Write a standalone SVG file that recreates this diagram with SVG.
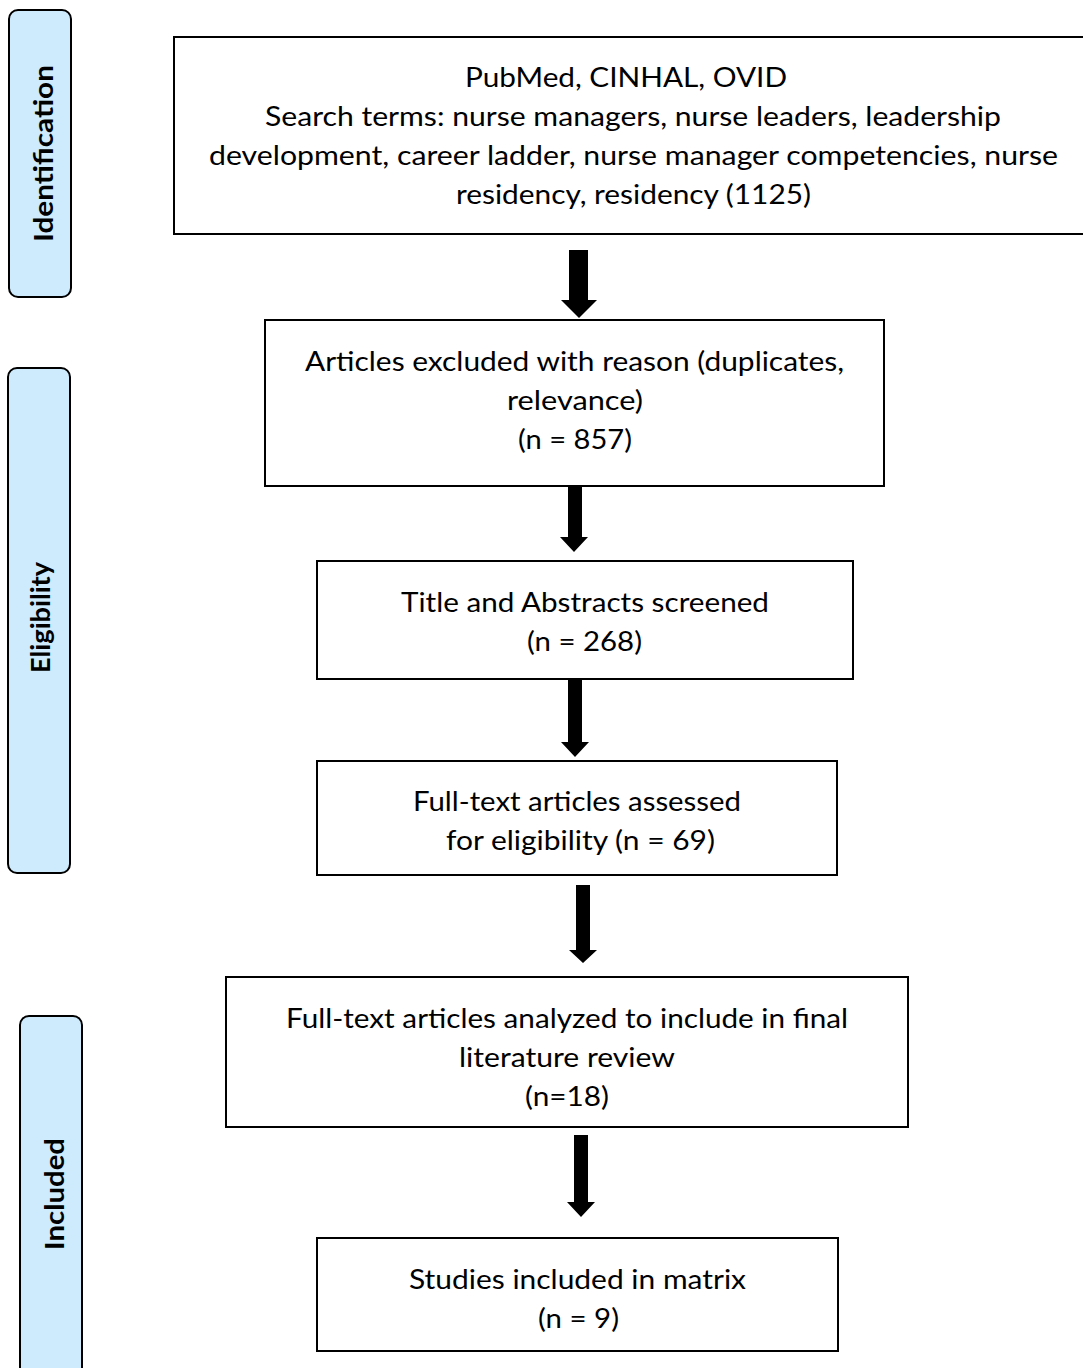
<svg xmlns="http://www.w3.org/2000/svg" width="1083" height="1368" viewBox="0 0 1083 1368">
<style>
.box{fill:#ffffff;stroke:#000000;stroke-width:2}
.side{fill:#cdebfd;stroke:#000000;stroke-width:2}
.t{font-family:Lato,"Open Sans","Liberation Sans",sans-serif;font-size:27px;fill:#000000;text-anchor:middle}
.s{font-family:Lato,"Open Sans","Liberation Sans",sans-serif;font-size:26px;font-weight:bold;fill:#000000;text-anchor:middle}
.arrow{fill:#000000;stroke:none}
</style>
<rect width="1083" height="1368" fill="#ffffff"/>
<g id="phase-identification">
<rect class="side" x="9" y="10" width="62" height="287" rx="9"/>
<text class="s" transform="translate(53,153.5) rotate(-90)" textLength="177" lengthAdjust="spacingAndGlyphs">Identification</text>
</g>
<g id="phase-eligibility">
<rect class="side" x="8" y="368" width="62" height="505" rx="9"/>
<text class="s" transform="translate(50,617.5) rotate(-90)" textLength="111" lengthAdjust="spacingAndGlyphs">Eligibility</text>
</g>
<g id="phase-included">
<rect class="side" x="20" y="1016" width="62" height="370" rx="9"/>
<text class="s" transform="translate(64,1194) rotate(-90)" textLength="112" lengthAdjust="spacingAndGlyphs">Included</text>
</g>
<g id="node-search">
<rect class="box" x="174" y="37" width="915" height="197"/>
<text class="t" x="626" y="87" textLength="322" lengthAdjust="spacingAndGlyphs">PubMed, CINHAL, OVID</text>
<text class="t" x="633" y="126" textLength="736" lengthAdjust="spacingAndGlyphs">Search terms: nurse managers, nurse leaders, leadership</text>
<text class="t" x="633.5" y="165" textLength="849" lengthAdjust="spacingAndGlyphs">development, career ladder, nurse manager competencies, nurse</text>
<text class="t" x="633.5" y="204" textLength="355" lengthAdjust="spacingAndGlyphs">residency, residency (1125)</text>
</g>
<g id="node-excluded">
<rect class="box" x="265" y="320" width="619" height="166"/>
<text class="t" x="574.5" y="371" textLength="539" lengthAdjust="spacingAndGlyphs">Articles excluded with reason (duplicates,</text>
<text class="t" x="575" y="410" textLength="136" lengthAdjust="spacingAndGlyphs">relevance)</text>
<text class="t" x="575" y="449" textLength="114" lengthAdjust="spacingAndGlyphs">(n = 857)</text>
</g>
<g id="node-screened">
<rect class="box" x="317" y="561" width="536" height="118"/>
<text class="t" x="585" y="612" textLength="368" lengthAdjust="spacingAndGlyphs">Title and Abstracts screened</text>
<text class="t" x="584.5" y="651" textLength="115" lengthAdjust="spacingAndGlyphs">(n = 268)</text>
</g>
<g id="node-fulltext">
<rect class="box" x="317" y="761" width="520" height="114"/>
<text class="t" x="577" y="811" textLength="328" lengthAdjust="spacingAndGlyphs">Full-text articles assessed</text>
<text class="t" x="580.5" y="850" textLength="269" lengthAdjust="spacingAndGlyphs">for eligibility (n = 69)</text>
</g>
<g id="node-analyzed">
<rect class="box" x="226" y="977" width="682" height="150"/>
<text class="t" x="567" y="1028" textLength="562" lengthAdjust="spacingAndGlyphs">Full-text articles analyzed to include in final</text>
<text class="t" x="567" y="1067" textLength="216" lengthAdjust="spacingAndGlyphs">literature review</text>
<text class="t" x="567" y="1106" textLength="84" lengthAdjust="spacingAndGlyphs">(n=18)</text>
</g>
<g id="node-included">
<rect class="box" x="317" y="1238" width="521" height="113"/>
<text class="t" x="577.5" y="1289" textLength="337" lengthAdjust="spacingAndGlyphs">Studies included in matrix</text>
<text class="t" x="578.5" y="1328" textLength="81" lengthAdjust="spacingAndGlyphs">(n = 9)</text>
</g>
<g id="connectors">
<path class="arrow" d="M569,250 H588 V300 H597 L579,318 L561,300 H569 Z"/>
<path class="arrow" d="M568,486 H582 V537 H588 L574,552 L560,537 H568 Z"/>
<path class="arrow" d="M568,679 H582 V742 H589 L575,757 L561,742 H568 Z"/>
<path class="arrow" d="M576,885 H590 V950 H597 L583,963 L569,950 H576 Z"/>
<path class="arrow" d="M574,1135 H588 V1202 H595 L581,1217 L567,1202 H574 Z"/>
</g>
</svg>
